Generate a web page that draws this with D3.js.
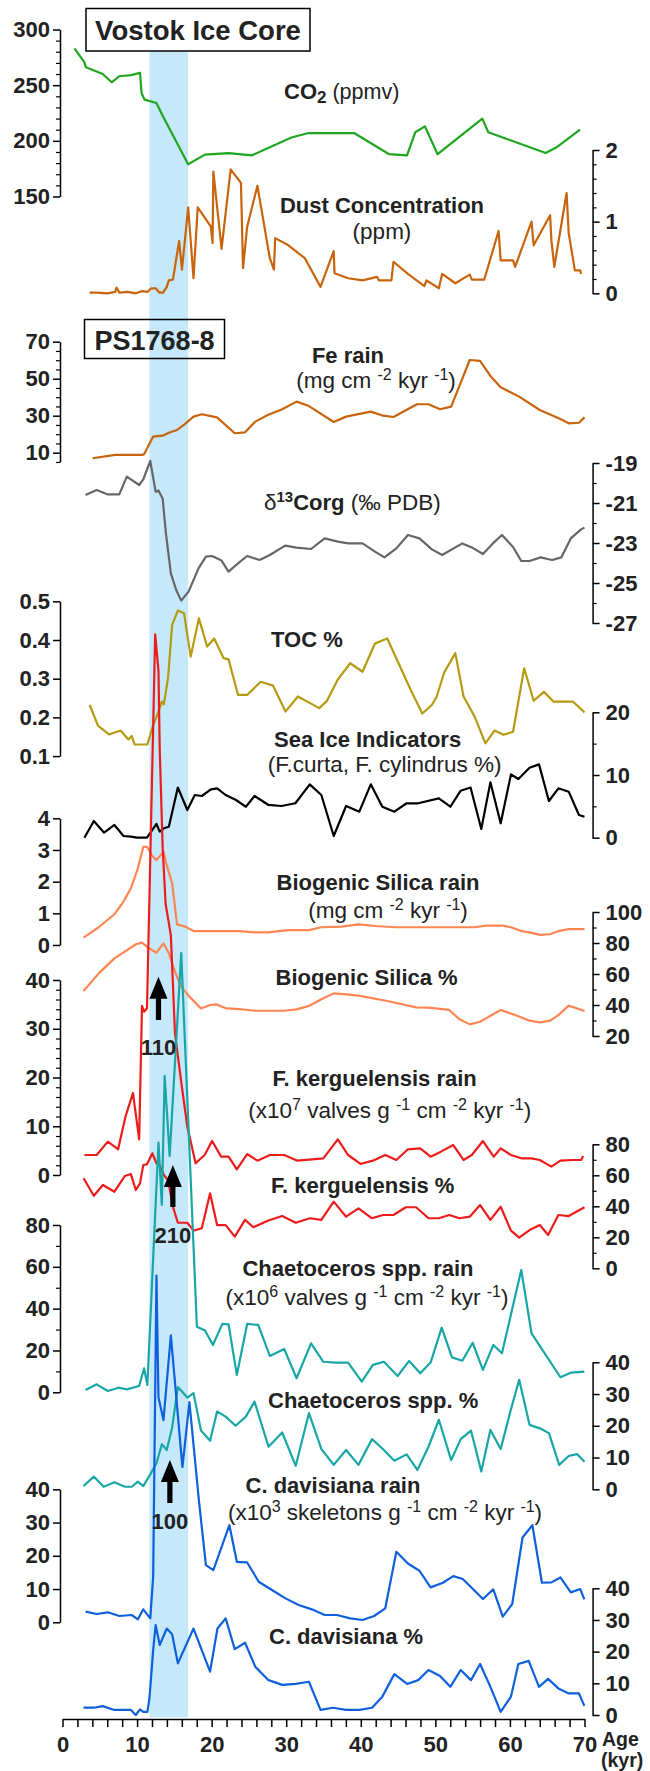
<!DOCTYPE html>
<html><head><meta charset="utf-8">
<script src="https://cdn.jsdelivr.net/npm/d3@7"></script>
<style>body{margin:0;background:#fff} svg{display:block} text{white-space:pre}</style>
</head><body><svg id="c" width="650" height="1771"></svg>
<script>
// ---------------- DATA (age kyr, value) ----------------
const co2 = [[1.6,283],[2.9,271],[3.15,266],[5.4,260],[6.6,252.6],[7.6,258],[9.2,259],[10.4,261],[10.6,243],[11.0,237],[12.6,234],[13.4,223],[16.85,179],[19.1,187.6],[22.3,189],[25.4,187],[30.7,203],[33.0,207],[39.1,207],[43.8,188],[46.2,187],[47.3,207.7],[48.6,213],[50.3,188],[56.3,220],[57.1,207.7],[64.8,189],[66.2,194],[69.4,210]];
const dust = [[3.64,0.01],[4.58,0.01],[5.96,0.0],[7.07,0.02],[7.24,0.08],[7.62,0.01],[8.73,0.02],[9.83,0.0],[10.66,0.03],[11.38,0.02],[11.93,0.07],[12.49,0.07],[12.98,0.01],[13.48,0.01],[13.98,0.09],[14.26,0.18],[14.81,0.19],[15.64,0.73],[16.02,0.33],[16.85,1.2],[17.57,0.21],[18.13,1.2],[19.9,0.93],[20.12,0.70],[20.23,1.70],[21.33,0.62],[22.55,1.73],[23.93,1.54],[24.21,0.35],[24.76,0.93],[26.14,1.5],[27.8,0.49],[28.35,0.33],[28.52,0.77],[30.29,0.67],[32.5,0.49],[34.6,0.09],[36.37,0.59],[36.48,0.28],[38.3,0.21],[40.24,0.18],[42.17,0.23],[42.45,0.18],[44.1,0.18],[44.38,0.44],[46.32,0.27],[48.53,0.10],[48.8,0.18],[50.47,0.07],[50.91,0.27],[52.68,0.14],[54.61,0.26],[54.89,0.19],[56.55,0.19],[58.48,0.87],[58.76,0.46],[60.42,0.46],[60.7,0.37],[62.9,1.0],[63.18,0.67],[65.39,1.09],[65.56,0.74],[65.95,0.37],[67.6,1.40],[67.88,0.84],[68.71,0.32],[69.43,0.32],[69.54,0.27]];
const fe = [[4.03,7],[7.07,8.8],[10.66,8.8],[10.94,9.1],[12.16,18.7],[13.43,19.2],[14.26,20.8],[15.36,22.3],[16.36,25.3],[17.57,29.5],[18.68,30.8],[20.72,29.1],[23.1,20.5],[24.48,21.0],[25.86,26.8],[27.52,30.4],[29.46,33.5],[31.39,37.6],[33.05,35.2],[36.37,26.6],[38.03,29.5],[41.34,32.2],[43.0,30.0],[44.38,29.3],[47.53,36.2],[49.08,36.2],[50.63,33.5],[52.12,34.9],[54.61,60.1],[55.99,59.6],[57.38,51.5],[58.76,45.4],[61.24,40.3],[64.0,33.1],[66.77,28.2],[67.88,25.9],[69.26,26.2],[70.0,29.1]];
const d13c = [[3.09,-20.6],[4.58,-20.35],[6.08,-20.57],[7.62,-20.57],[8.62,-19.68],[10.28,-20.1],[10.83,-19.82],[11.77,-18.9],[12.49,-20.43],[12.87,-20.38],[13.43,-20.77],[13.87,-22.52],[14.53,-24.52],[15.25,-25.35],[15.92,-25.88],[16.91,-25.43],[18.24,-24.27],[19.23,-23.68],[20.06,-23.65],[21.33,-23.88],[22.27,-24.43],[23.65,-23.98],[24.76,-23.65],[26.42,-23.85],[27.8,-23.6],[29.85,-23.13],[31.39,-23.23],[33.33,-23.3],[35.15,-22.77],[36.92,-22.93],[38.3,-23.02],[40.24,-23.02],[41.9,-23.43],[43.17,-23.72],[44.77,-23.27],[46.32,-22.6],[47.87,-22.77],[49.53,-23.32],[50.91,-23.6],[53.62,-23.02],[54.89,-23.22],[56.38,-23.55],[57.71,-23.02],[58.93,-22.6],[60.42,-23.2],[61.52,-23.9],[62.63,-23.9],[64.12,-23.72],[65.67,-23.85],[66.89,-23.72],[68.16,-22.77],[69.54,-22.32],[70.0,-22.23]];
const toc = [[3.64,0.232],[4.75,0.179],[6.24,0.156],[7.79,0.166],[8.84,0.143],[9.28,0.152],[9.67,0.130],[11.38,0.130],[12.16,0.18],[12.77,0.21],[13.32,0.241],[13.59,0.234],[14.15,0.301],[14.7,0.439],[15.47,0.476],[16.3,0.469],[17.19,0.357],[18.29,0.456],[19.4,0.383],[20.34,0.404],[21.61,0.353],[22.27,0.35],[23.54,0.258],[24.76,0.258],[26.58,0.292],[28.24,0.282],[29.9,0.215],[31.56,0.254],[34.43,0.224],[35.43,0.242],[36.92,0.298],[38.58,0.34],[40.24,0.318],[41.9,0.391],[43.55,0.404],[46.7,0.271],[48.25,0.21],[49.53,0.232],[50.19,0.254],[51.18,0.316],[52.68,0.366],[53.78,0.254],[55.27,0.202],[56.71,0.133],[57.93,0.166],[59.15,0.155],[60.42,0.163],[61.91,0.327],[63.18,0.243],[64.56,0.266],[65.83,0.241],[68.43,0.241],[70.0,0.213]];
const seaIce = [[2.94,0],[4.2,2.66],[5.58,0.8],[6.96,2.03],[8.18,0.27],[9.17,0.16],[10.0,0],[11.33,0],[12.05,1.23],[12.6,2.19],[13.04,0.96],[13.59,1.5],[14.26,1.75],[15.47,8.0],[16.74,4.42],[17.74,6.81],[18.68,6.65],[19.9,7.72],[20.73,7.88],[21.88,6.81],[23.27,6.01],[24.59,4.94],[25.75,6.65],[27.63,5.22],[29.35,5.06],[31.23,5.49],[33.16,8.51],[34.71,6.81],[36.37,0.27],[38.03,5.06],[39.8,4.15],[41.34,8.51],[42.89,4.94],[44.5,4.15],[46.15,5.49],[47.7,5.49],[50.47,6.28],[52.01,4.94],[53.4,7.5],[54.72,8.0],[56.16,1.39],[57.38,8.83],[58.76,2.3],[60.14,10.1],[61.14,9.36],[62.63,11.16],[63.9,11.7],[65.23,5.85],[66.5,7.88],[67.88,7.34],[69.26,3.62],[70.0,3.35]];
const bsiRain = [[2.82,0.23],[4.86,0.56],[6.96,0.97],[8.18,1.37],[9.17,1.79],[10.11,2.42],[10.83,3.1],[11.33,3.1],[12.05,2.81],[12.6,2.68],[13.54,2.94],[13.98,2.52],[14.7,1.95],[15.36,0.65],[16.47,0.58],[17.57,0.44],[20.89,0.44],[23.65,0.44],[25.86,0.40],[27.52,0.40],[30.29,0.47],[33.05,0.47],[34.71,0.56],[37.47,0.58],[39.69,0.65],[41.9,0.6],[44.66,0.56],[49.64,0.56],[52.4,0.56],[55.17,0.56],[56.82,0.61],[59.04,0.61],[60.14,0.56],[61.52,0.44],[62.63,0.40],[64.01,0.32],[65.39,0.34],[66.5,0.44],[67.88,0.5],[70.0,0.5]];
const bsiPct = [[2.82,49.0],[4.86,60.4],[6.96,70.1],[8.35,74.4],[9.84,79.2],[10.66,80.2],[11.6,76.6],[12.6,73.7],[13.54,79.8],[14.26,73.4],[15.08,61.5],[15.92,51.8],[17.02,45.4],[18.57,37.8],[19.79,40.0],[20.62,40.4],[22.0,37.8],[23.65,37.4],[25.86,36.3],[27.52,36.3],[29.73,36.3],[31.39,37.2],[33.05,39.4],[34.71,43.7],[36.37,47.5],[38.03,46.9],[39.69,46.0],[43.55,42.6],[47.42,38.5],[49.08,38.3],[51.85,36.8],[53.23,30.8],[54.61,27.5],[56.0,29.2],[58.76,36.8],[60.7,33.5],[62.63,29.9],[64.01,28.8],[65.39,29.9],[66.5,33.5],[67.88,39.6],[70.0,36.1]];
const fkRain = [[2.94,4.1],[4.58,4.1],[6.08,6.84],[7.46,5.27],[8.45,12.0],[9.45,16.8],[10.28,7.32],[10.66,34.7],[10.94,33.5],[11.33,34.2],[12.43,110.9],[12.87,103.4],[13.04,87.2],[13.43,67.3],[13.82,55.7],[14.53,49.2],[15.08,29.1],[15.92,19.1],[16.74,9.9],[17.85,2.4],[19.06,4.1],[20.06,6.97],[21.27,3.76],[22.27,3.76],[23.38,1.16],[24.76,4.3],[26.14,2.94],[27.8,4.1],[29.73,4.1],[31.5,2.94],[34.98,3.42],[36.92,7.32],[38.3,4.1],[39.96,2.26],[41.62,2.94],[43.28,4.1],[44.77,3.08],[46.32,5.27],[47.98,5.47],[49.36,3.76],[50.74,4.79],[52.4,6.15],[53.78,3.08],[54.89,4.1],[56.38,6.97],[57.82,3.76],[58.76,5.47],[60.14,4.1],[61.52,3.42],[62.9,3.42],[64.01,3.08],[65.56,1.71],[66.77,2.94],[68.43,3.08],[69.54,3.08],[69.82,3.9]];
const fkPct = [[2.82,58.1],[4.2,46.8],[5.41,53.7],[6.96,49.4],[8.35,59.5],[9.17,60.8],[9.83,50.5],[10.39,54.8],[10.83,66.6],[11.33,67.1],[12.05,74.2],[12.6,67.7],[13.04,66.6],[13.59,60.2],[14.15,57.0],[14.81,39.7],[15.47,29.4],[16.74,29.4],[17.57,24.3],[18.68,25.8],[19.79,48.4],[20.73,27.9],[21.88,27.9],[23.1,20.4],[24.48,31.2],[25.59,26.5],[27.52,30.7],[29.46,33.7],[31.28,29.4],[33.16,32.3],[34.71,31.2],[36.37,43.0],[38.03,33.3],[39.69,38.7],[41.46,32.3],[43.0,34.4],[44.38,34.4],[46.04,39.4],[47.42,39.4],[49.08,32.3],[50.47,32.3],[51.85,34.4],[53.23,32.3],[54.61,33.3],[56.0,40.8],[57.38,31.2],[58.76,39.7],[60.14,24.3],[61.24,19.8],[62.63,24.7],[64.01,27.9],[65.12,21.5],[66.5,34.4],[67.88,33.7],[70.0,39.4]];
const chRain = [[3.09,1.1],[4.58,3.8],[6.08,0.6],[7.51,2.2],[8.62,1.4],[10.28,3.0],[10.94,11.5],[11.38,3.5],[12.87,119.4],[13.32,89.6],[13.7,151.3],[14.37,113],[15.92,210],[18.02,31.4],[19.12,29.5],[20.17,22.6],[21.44,32.7],[22.27,32.5],[23.38,8.3],[24.76,32.7],[26.25,32.2],[27.8,17.4],[29.73,20.7],[31.39,6.7],[33.33,23.4],[34.98,14.6],[36.64,14.2],[38.3,14.2],[40.13,5.1],[41.62,13.1],[43.11,14.6],[44.94,7.8],[46.48,15.0],[47.98,9.1],[49.36,14.2],[50.85,30.9],[52.23,16.7],[53.62,15.1],[55.0,23.7],[56.38,10.7],[57.77,22.6],[58.93,18.7],[61.52,58.5],[62.9,28.2],[66.77,7.2],[68.16,9.4],[69.98,9.9]];
const chPct = [[2.82,1.04],[4.2,4.0],[5.52,0.8],[6.96,2.2],[8.35,0.8],[9.28,0.8],[10.11,2.4],[10.83,1.0],[11.77,4.7],[12.6,8.2],[13.32,14.2],[13.98,12.4],[14.7,19.4],[15.47,32.2],[16.74,28.9],[17.57,30.3],[18.57,18.5],[19.79,15.3],[20.73,24.5],[21.88,22.9],[23.21,20.0],[24.59,22.9],[25.75,27.6],[27.63,13.4],[29.46,17.9],[31.28,7.4],[33.05,24.0],[34.71,12.7],[36.37,7.7],[38.03,12.4],[39.69,7.7],[41.51,15.8],[43.0,12.6],[44.5,9.0],[46.15,11.0],[47.59,6.1],[49.08,13.4],[50.47,21.9],[52.12,9.2],[53.4,15.8],[54.78,18.5],[56.16,5.6],[57.38,18.7],[58.76,12.7],[60.14,25.2],[61.24,34.5],[62.63,20.3],[64.01,19.2],[65.23,17.7],[66.61,7.7],[67.88,10.5],[68.99,11.1],[70.0,8.7]];
const cdRain = [[3.09,3.2],[4.58,2.5],[6.08,3.0],[7.62,1.9],[9.28,2.2],[10.11,0.9],[10.83,3.9],[11.77,1.2],[12.16,13.7],[12.6,104.3],[12.87,67.7],[13.54,60.8],[14.53,86.3],[16.08,46.7],[17.02,66.2],[18.29,36.7],[19.23,17.2],[20.23,15.7],[22.38,29.2],[23.38,18.2],[24.76,18.0],[26.31,12.2],[28.08,9.7],[29.9,7.2],[31.67,5.2],[33.44,3.9],[35.15,2.2],[36.81,2.2],[38.58,1.2],[40.24,0.7],[41.79,1.9],[43.28,4.2],[44.77,21.2],[46.32,17.7],[47.87,15.5],[49.36,10.5],[51.02,11.9],[52.4,13.9],[53.67,13.0],[55.17,9.7],[56.38,7.0],[57.77,9.9],[59.04,1.7],[60.31,5.5],[61.69,25.5],[63.01,29.2],[64.29,11.9],[65.56,12.0],[66.77,13.5],[68.16,9.0],[69.43,10.0],[69.98,6.9]];
const cdPct = [[2.82,2.3],[4.2,2.3],[5.41,2.8],[6.96,1.6],[9.17,1.6],[9.83,0],[10.39,1.8],[10.83,1.0],[11.38,1.0],[11.66,5.3],[12.16,20.5],[12.49,28.4],[13.04,22.1],[13.98,27.3],[14.7,25.5],[15.47,16.3],[17.57,27.3],[19.79,13.7],[20.78,27.3],[21.88,30.5],[23.1,20.8],[24.48,22.8],[25.86,15.2],[27.63,11.0],[29.46,9.5],[31.28,9.8],[33.05,10.5],[34.6,1.6],[36.26,2.3],[38.03,1.6],[39.85,1.6],[41.51,2.3],[42.89,5.8],[44.5,12.9],[46.21,9.8],[47.7,11.0],[49.08,14.2],[50.63,12.3],[52.01,8.9],[53.4,14.2],[54.78,11.0],[56.0,16.1],[57.38,8.9],[58.76,1.0],[60.14,5.8],[61.13,16.1],[62.52,17.1],[63.9,8.9],[65.12,11.4],[66.5,8.4],[67.88,6.8],[69.26,6.8],[69.98,2.9]];

// tick labels
const ageTicks = [0,10,20,30,40,50,60,70];
const co2Ticks = [150,200,250,300];
const dustTicks = [0,1,2];
const feTicks = [10,30,50,70];
const d13cTicks = [-27,-25,-23,-21,-19];
const tocTicks = [0.1,0.2,0.3,0.4,0.5];
const seaIceTicks = [0,10,20];
const bsiRainTicks = [0,1,2,3,4];
const bsiPctTicks = [20,40,60,80,100];
const fkRainTicks = [0,10,20,30,40];
const fkPctTicks = [0,20,40,60,80];
const chRainTicks = [0,20,40,60,80];
const chPctTicks = [0,10,20,30,40];
const cdRainTicks = [0,10,20,30,40];
const cdPctTicks = [0,10,20,30,40];
const bandAges = [11.66, 16.85];
const arrowAges = [12.87, 14.8, 14.4];
const arrowLabels = ['110','210','100'];

// ---------------- LAYOUT ----------------
const FONT = '"Liberation Sans", Arial, Helvetica, sans-serif';
const svg = d3.select('#c');
svg.append('rect').attr('width',650).attr('height',1771).attr('fill','#fff');
const x = d3.scaleLinear().domain([0,70]).range([62.5,584.5]);
const LEFT = 60, RIGHT = 592.6, XAXIS_Y = 1719;

const panels = [
 {data:co2, side:'left', domain:[150,300], range:[196.5,29.5], ticks:co2Ticks, minor:10, color:'#1fa51f'},
 {data:dust, side:'right', domain:[0,2], range:[293.3,150], ticks:dustTicks, minor:0.2, color:'#c8640c'},
 {data:fe, side:'left', domain:[10,70], range:[452.7,341.7], axisDomain:[5,70], ticks:feTicks, minor:5, color:'#c8640c'},
 {data:d13c, side:'right', domain:[-27,-19], range:[623,463], ticks:d13cTicks, minor:1, color:'#666666'},
 {data:toc, side:'left', domain:[0.1,0.5], range:[756.1,601.3], ticks:tocTicks, fmt:d3.format('.1f'), color:'#b59b14'},
 {data:seaIce, side:'right', domain:[0,20], range:[837.7,712.3], ticks:seaIceTicks, minor:5, color:'#000000'},
 {data:bsiRain, side:'left', domain:[0,4], range:[945,818.3], ticks:bsiRainTicks, color:'#ff8552'},
 {data:bsiPct, side:'right', domain:[20,100], range:[1036,912], ticks:bsiPctTicks, minor:10, color:'#ff8552'},
 {data:fkRain, side:'left', domain:[0,40], range:[1175,980], ticks:fkRainTicks, minor:2, color:'#ee1b1b'},
 {data:fkPct, side:'right', domain:[0,80], range:[1268.3,1144.3], ticks:fkPctTicks, minor:10, color:'#ee1b1b'},
 {data:chRain, side:'left', domain:[0,80], range:[1392.3,1225], ticks:chRainTicks, minor:10, color:'#18a6a6'},
 {data:chPct, side:'right', domain:[0,40], range:[1489.3,1362.3], ticks:chPctTicks, color:'#18a6a6'},
 {data:cdRain, side:'left', domain:[0,40], range:[1622.3,1489.3], ticks:cdRainTicks, color:'#0f60dc'},
 {data:cdPct, side:'right', domain:[0,40], range:[1715,1588.3], ticks:cdPctTicks, color:'#0f60dc'}
];

// band
svg.append('rect').attr('x', x(bandAges[0])).attr('width', x(bandAges[1]) - x(bandAges[0]))
  .attr('y', 51.5).attr('height', 1717.5 - 51.5).attr('fill', '#c5e8fb');

// rich text helper
function rich(px, py, parts, anchor) {
  const t = svg.append('text').attr('x', px).attr('y', py).attr('text-anchor', anchor || 'start')
    .attr('font-family', FONT).attr('fill', '#222');
  let cur = 0;
  parts.forEach(p => {
    const off = p.o || 0;
    t.append('tspan').text(p.t).attr('font-size', p.s || 22).attr('font-weight', p.b ? 'bold' : 'normal')
      .attr('dy', off - cur);
    cur = off;
  });
  return t;
}
const B = t => ({t, b:true});
const R = t => ({t, s:22.5});
const SUP = t => ({t, s:16, o:-8});
const BASE = t => ({t, s:22.5, o:0});
const units = [R('(mg cm '), SUP('-2'), BASE(' kyr '), SUP('-1'), BASE(')')];
const valves = e => [R('(x10'), SUP(e), BASE(' valves g '), SUP('-1'), BASE(' cm '), SUP('-2'), BASE(' kyr '), SUP('-1'), BASE(')')];

// title boxes
svg.append('rect').attr('x',86).attr('y',8.5).attr('width',224).attr('height',42.5).attr('fill','#fff').attr('stroke','#000').attr('stroke-width',1.5);
rich(198, 40, [{t:'Vostok Ice Core', b:true, s:27.5}], 'middle');
svg.append('rect').attr('x',84.5).attr('y',319.5).attr('width',140).attr('height',39).attr('fill','none').attr('stroke','#000').attr('stroke-width',1.5);
rich(154.6, 350, [{t:'PS1768-8', b:true, s:27}], 'middle');

// panel labels
rich(284, 98.5, [B('CO'), {t:'2', b:true, s:17, o:4}, {t:' (ppmv)', s:21.5, o:0}]);
rich(382, 213, [B('Dust Concentration')], 'middle');
rich(382, 239, [R('(ppm)')], 'middle');
rich(348, 363, [B('Fe rain')], 'middle');
rich(376, 388, units, 'middle');
rich(264, 510, [R('\u03b4'), {t:'13', b:true, s:15, o:-8}, {t:'Corg', b:true, o:0}, R(' (\u2030 PDB)')]);
rich(271, 647, [B('TOC %')]);
rich(367.6, 747, [B('Sea Ice Indicators')], 'middle');
rich(384.7, 772, [R('(F.curta, F. cylindrus %)')], 'middle');
rich(378, 890, [B('Biogenic Silica rain')], 'middle');
rich(388, 918, units, 'middle');
rich(275.5, 985, [B('Biogenic Silica %')]);
rich(374.7, 1086, [B('F. kerguelensis rain')], 'middle');
rich(389.7, 1118, valves('7'), 'middle');
rich(271, 1193, [B('F. kerguelensis %')]);
rich(358, 1276, [B('Chaetoceros spp. rain')], 'middle');
rich(367, 1305, valves('6'), 'middle');
rich(268, 1408, [B('Chaetoceros spp. %')]);
rich(333, 1493, [B('C. davisiana rain')], 'middle');
rich(385, 1520, [R('(x10'), SUP('3'), BASE(' skeletons g '), SUP('-1'), BASE(' cm '), SUP('-2'), BASE(' kyr '), SUP('-1'), BASE(')')], 'middle');
rich(269, 1644, [B('C. davisiana %')]);

// lines
panels.forEach(p => {
  p.y = d3.scaleLinear().domain(p.domain).range(p.range);
  const line = d3.line().x(d => x(d[0])).y(d => p.y(d[1]));
  svg.append('path').datum(p.data).attr('d', line).attr('fill','none')
    .attr('stroke', p.color).attr('stroke-width', 2.2).attr('stroke-linejoin','round');
});

// axes
panels.forEach(p => {
  const ad = p.axisDomain || p.domain;
  const ys = p.y.copy().domain(ad).range(ad.map(p.y));
  const left = p.side === 'left';
  const mk = s => left ? d3.axisLeft(s) : d3.axisRight(s);
  const tx = `translate(${left ? LEFT : RIGHT},0)`;
  const g = svg.append('g').attr('transform', tx)
    .call(mk(ys).tickValues(p.ticks).tickSize(7).tickSizeOuter(0).tickPadding(left ? 3 : 6)
      .tickFormat(p.fmt || (d => String(d))));
  g.attr('font-family', FONT).attr('font-size', 22).attr('font-weight', 'bold');
  g.select('.domain').attr('stroke-width', 1.5);
  g.selectAll('.tick line').attr('stroke-width', 1.5);
  g.selectAll('.tick text').attr('fill', '#222');
  if (p.minor) {
    const mins = d3.range(ad[0], ad[1] + 1e-9, p.minor).filter(v => !p.ticks.some(t => Math.abs(t - v) < 1e-6));
    svg.append('g').attr('transform', tx)
      .call(mk(ys).tickValues(mins).tickSize(4).tickFormat(''))
      .call(gg => gg.select('.domain').remove())
      .selectAll('line').attr('stroke-width', 1.2);
  }
});

// x axis
const xg = svg.append('g').attr('transform', `translate(0,${XAXIS_Y})`)
  .call(d3.axisBottom(x).tickValues(d3.range(0, 71, 2)).tickSize(8).tickSizeOuter(0).tickPadding(9.4)
    .tickFormat(d => ageTicks.includes(d) ? String(d) : ''));
xg.attr('font-family', FONT).attr('font-size', 22).attr('font-weight', 'bold');
xg.select('.domain').attr('stroke-width', 1.5);
xg.selectAll('.tick line').attr('stroke-width', 1.5);
xg.selectAll('.tick text').attr('fill', '#222');
rich(602, 1745.5, [{t:'Age', b:true, s:19.5}]);
rich(601, 1766.5, [{t:'(kyr)', b:true, s:19.5}]);

// arrows
const arrowTips = [976.7, 1165, 1460], arrowBases = [1020, 1207, 1503], labelY = [1055, 1243, 1529];
arrowAges.forEach((a, i) => {
  const ax = x(a), tip = arrowTips[i], base = arrowBases[i], hh = 22, hw = 9, sw = 2.6;
  const path = d3.path();
  path.moveTo(ax, tip); path.lineTo(ax + hw, tip + hh); path.lineTo(ax + sw, tip + hh);
  path.lineTo(ax + sw, base); path.lineTo(ax - sw, base); path.lineTo(ax - sw, tip + hh);
  path.lineTo(ax - hw, tip + hh); path.closePath();
  svg.append('path').attr('d', path.toString()).attr('fill', '#000');
  rich(ax, labelY[i], [B(arrowLabels[i])], 'middle');
});
</script></body></html>
